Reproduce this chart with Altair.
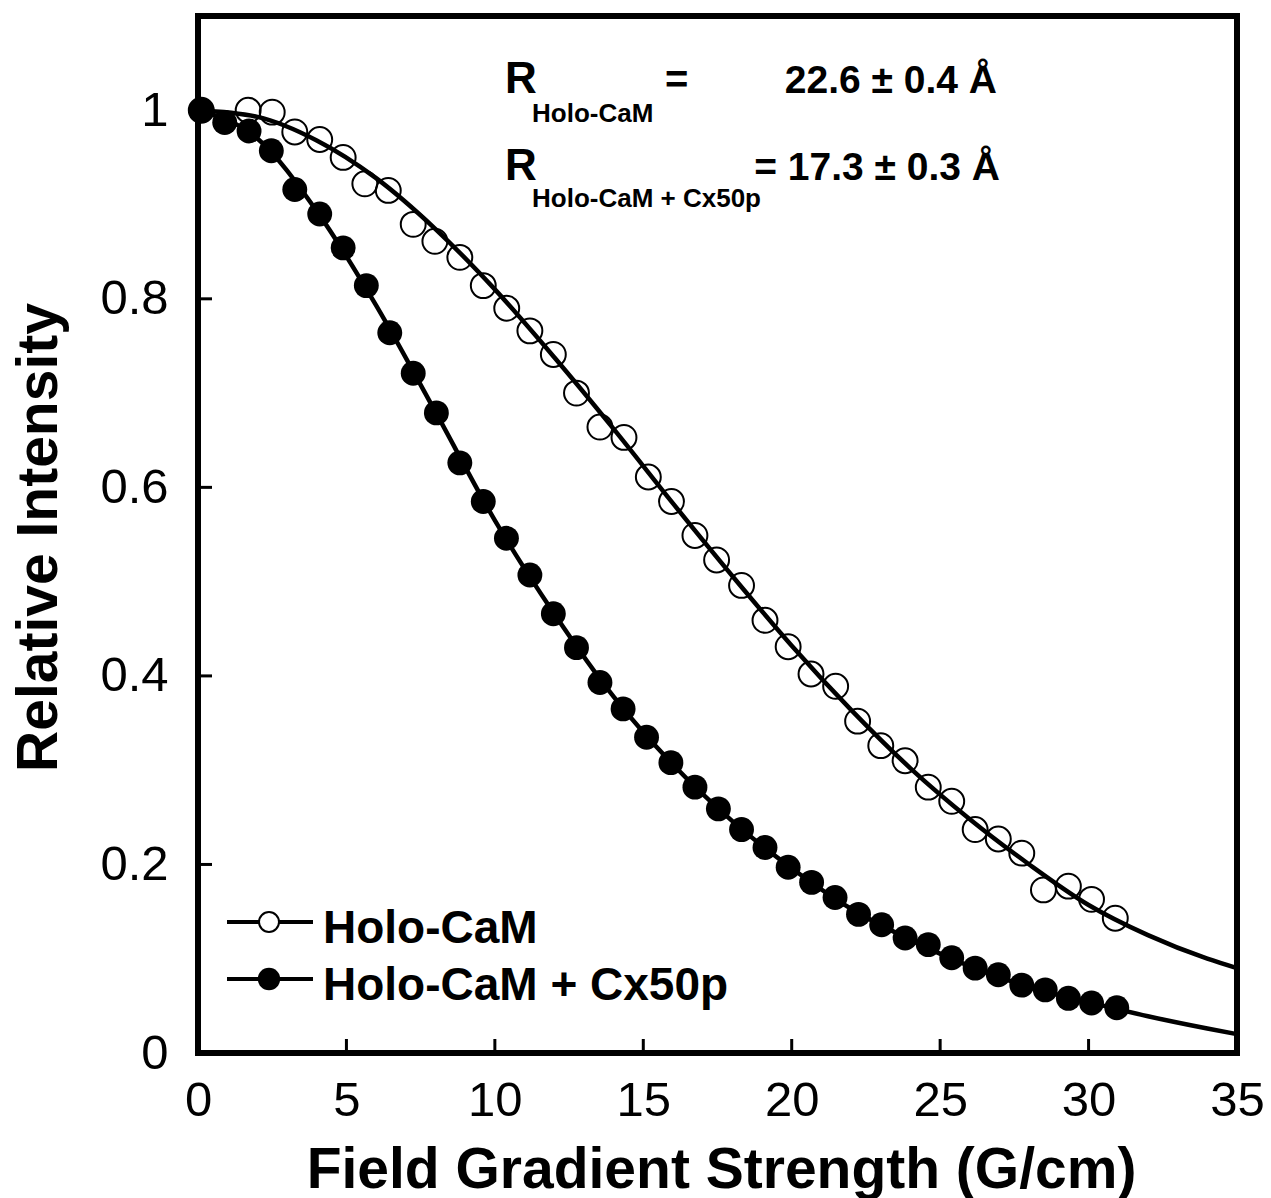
import altair as alt
import pandas as pd

# ---------------- data ----------------
# Holo-CaM (open circles)
x_holo = [0.11, 1.69, 2.50, 3.26, 4.10, 4.89, 5.62, 6.41, 7.25, 7.98, 8.82, 9.61,
          10.40, 11.18, 11.97, 12.75, 13.54, 14.35, 15.17, 15.95, 16.74, 17.47,
          18.31, 19.10, 19.88, 20.65, 21.48, 22.22, 23.00, 23.82, 24.60, 25.39,
          26.18, 26.96, 27.75, 28.48, 29.32, 30.10, 30.90]
y_holo = [1.000, 1.000, 0.998, 0.977, 0.969, 0.950, 0.922, 0.915, 0.879, 0.861, 0.844, 0.814,
          0.790, 0.766, 0.741, 0.700, 0.664, 0.653, 0.611, 0.585, 0.549, 0.523,
          0.496, 0.459, 0.431, 0.402, 0.389, 0.352, 0.326, 0.310, 0.282, 0.267,
          0.237, 0.227, 0.212, 0.173, 0.177, 0.163, 0.143]

# Holo-CaM + Cx50p (filled circles)
x_cx = [0.11, 0.90, 1.72, 2.47, 3.26, 4.10, 4.89, 5.67, 6.46, 7.25, 8.03, 8.82,
        9.61, 10.39, 11.18, 11.97, 12.75, 13.54, 14.32, 15.11, 15.93, 16.74,
        17.53, 18.31, 19.10, 19.88, 20.67, 21.46, 22.25, 23.03, 23.82, 24.60,
        25.39, 26.18, 26.96, 27.75, 28.54, 29.32, 30.10, 30.95]
y_cx = [1.000, 0.987, 0.978, 0.957, 0.916, 0.890, 0.854, 0.814, 0.764, 0.721, 0.679, 0.626,
        0.585, 0.546, 0.507, 0.466, 0.430, 0.393, 0.365, 0.335, 0.308, 0.282,
        0.259, 0.237, 0.218, 0.197, 0.181, 0.165, 0.147, 0.136, 0.122, 0.115,
        0.101, 0.090, 0.083, 0.072, 0.067, 0.058, 0.053, 0.048]

# fitted curves
fit_x = [0, 2, 4, 6, 8, 10, 12, 14, 16, 18, 20, 22, 24, 26, 28, 30, 32, 34, 35]
fit_holo = [1.000, 0.993, 0.968, 0.928, 0.874, 0.810, 0.738, 0.662, 0.583, 0.506,
            0.432, 0.364, 0.302, 0.248, 0.200, 0.157, 0.125, 0.100, 0.090]
fit_cx = [1.000, 0.970, 0.893, 0.793, 0.680, 0.565, 0.466, 0.378, 0.306, 0.246,
          0.196, 0.153, 0.120, 0.092, 0.070, 0.054, 0.039, 0.026, 0.020]

x_tick_labels = [0, 5, 10, 15, 20, 25, 30, 35]
y_tick_labels = [0, 0.2, 0.4, 0.6, 0.8, 1]
x_inner_ticks = [5, 10, 15, 20, 25, 30]
y_inner_ticks = [0.2, 0.4, 0.6, 0.8, 1.0]

legend_labels = ["Holo-CaM", "Holo-CaM + Cx50p"]
x_title = "Field Gradient Strength (G/cm)"
y_title = "Relative Intensity"
ann_sub = ["Holo-CaM", "Holo-CaM + Cx50p"]
ann_val = ["22.6 \u00b1 0.4 \u00c5", "= 17.3 \u00b1 0.3 \u00c5"]

# ---------------- tables ----------------
df_holo = pd.DataFrame({"g": x_holo, "I": y_holo})
df_cx = pd.DataFrame({"g": x_cx, "I": y_cx})
df_fit_holo = pd.DataFrame({"g": fit_x, "I": fit_holo})
df_fit_cx = pd.DataFrame({"g": fit_x, "I": fit_cx})
df_xt = pd.DataFrame({"g": x_inner_ticks})
df_yt = pd.DataFrame({"I": y_inner_ticks})

FONT = "Liberation Sans"
W, H = 1039, 1037

xscale = alt.Scale(domain=[0, 35], nice=False, zero=False)
yscale = alt.Scale(domain=[0, 1.1], nice=False, zero=False)

xaxis = alt.Axis(
    values=x_tick_labels, ticks=False, tickSize=0, domain=False, grid=False,
    labelFont=FONT, labelFontSize=49, labelPadding=23, labelColor="black",
    labelFlush=False, labelOverlap=False,
    title=x_title, titleFont=FONT, titleFontSize=57, titleFontWeight="bold",
    titleColor="black", titleX=523, titleY=134, titleAlign="center",
    titleBaseline="alphabetic",
)
yaxis = alt.Axis(
    values=y_tick_labels, format="~g", ticks=False, tickSize=0, domain=False, grid=False,
    labelFont=FONT, labelFontSize=49, labelPadding=30, labelColor="black",
    labelFlush=False, labelOverlap=False,
    title=y_title, titleFont=FONT, titleFontSize=57, titleFontWeight="bold",
    titleColor="black", titleAngle=270, titleX=-142, titleY=521,
    titleAlign="center", titleBaseline="alphabetic",
)

X = alt.X("g:Q", scale=xscale, axis=xaxis)
Y = alt.Y("I:Q", scale=yscale, axis=yaxis)

fit1 = alt.Chart(df_fit_holo).mark_line(color="black", strokeWidth=4.5, interpolate="monotone").encode(x=X, y=Y)
fit2 = alt.Chart(df_fit_cx).mark_line(color="black", strokeWidth=4.5, interpolate="monotone").encode(
    x=alt.X("g:Q", scale=xscale), y=alt.Y("I:Q", scale=yscale))

open_pts = alt.Chart(df_holo).mark_point(
    shape="circle", filled=False, stroke="black", strokeWidth=2, size=620, opacity=1
).encode(x=alt.X("g:Q", scale=xscale), y=alt.Y("I:Q", scale=yscale))

filled_pts = alt.Chart(df_cx).mark_circle(color="black", size=620, opacity=1).encode(
    x=alt.X("g:Q", scale=xscale), y=alt.Y("I:Q", scale=yscale))

xticks = alt.Chart(df_xt).mark_rule(color="black", strokeWidth=3).encode(
    x=alt.X("g:Q", scale=xscale), y=alt.value(H), y2=alt.value(H - 14))
yticks = alt.Chart(df_yt).mark_rule(color="black", strokeWidth=3).encode(
    y=alt.Y("I:Q", scale=yscale), x=alt.value(0), x2=alt.value(14))

one = alt.Data(values=[{}])


def txt(s, x, y, size, align="left", weight="bold"):
    return alt.Chart(one).mark_text(
        align=align, baseline="alphabetic", font=FONT, fontSize=size,
        fontWeight=weight, color="black"
    ).encode(x=alt.value(x), y=alt.value(y), text=alt.value(s))


# annotation
ann = [
    txt("R", 307, 77, 44),
    txt(ann_sub[0], 334, 106, 26),
    txt("=", 467, 77, 40),
    txt(ann_val[0], 799, 77, 39, align="right"),
    txt("R", 307, 164, 44),
    txt(ann_sub[1], 334, 191, 26),
    txt(ann_val[1], 802, 164, 39, align="right"),
]

# legend
leg_y = [906, 963]
leg = []
for i, lab in enumerate(legend_labels):
    leg.append(alt.Chart(one).mark_rule(color="black", strokeWidth=4).encode(
        x=alt.value(29), x2=alt.value(115), y=alt.value(leg_y[i])))
    if i == 0:
        leg.append(alt.Chart(one).mark_point(shape="circle", filled=True, fill="white",
                                             stroke="black", strokeWidth=2, size=400, opacity=1).encode(
            x=alt.value(71), y=alt.value(leg_y[i])))
    else:
        leg.append(alt.Chart(one).mark_circle(color="black", size=500, opacity=1).encode(
            x=alt.value(71), y=alt.value(leg_y[i])))
    leg.append(txt(lab, 125, leg_y[i] + 21, 46))

chart = alt.layer(
    fit1, fit2, xticks, yticks, open_pts, filled_pts, *ann, *leg
).properties(
    width=W, height=H,
    padding={"left": 190, "top": 8, "right": 26, "bottom": 145},
    autosize=alt.AutoSizeParams(type="none"),
    background="white",
).configure_view(stroke="black", strokeWidth=6)

chart.save("out.html", embed_options={"renderer": "svg", "actions": False})
